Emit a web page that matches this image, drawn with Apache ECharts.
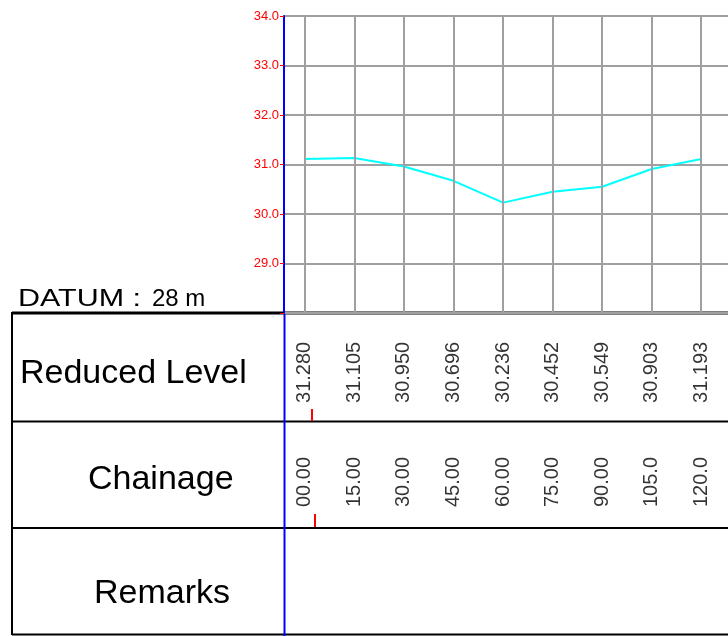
<!DOCTYPE html>
<html>
<head>
<meta charset="utf-8">
<title>Longitudinal section</title>
<script src="https://cdn.jsdelivr.net/npm/echarts@6/dist/echarts.min.js"></script>
<style>
  html, body { margin: 0; padding: 0; background: #fff; }
  #chart { width: 728px; height: 636px; }
</style>
</head>
<body>
<div id="chart"></div>
<script>
  // chainage of each station (m)
  const chainage = [0, 15, 30, 45, 60, 75, 90, 105, 120]
  // levels as plotted on the profile
  const levels = [31.11, 31.13, 30.96, 30.67, 30.23, 30.45, 30.55, 30.91, 31.11]
  // texts written in the table rows
  const rlLabels = ['31.280', '31.105', '30.950', '30.696', '30.236', '30.452', '30.549', '30.903', '31.193']
  const chainageLabels = ['00.00', '15.00', '30.00', '45.00', '60.00', '75.00', '90.00', '105.0', '120.0']
  const yTicks = [28, 29, 30, 31, 32, 33, 34]
  const datum = 28

  const FONT = '"Liberation Sans", Arial, sans-serif'
  const xRange = { min: -6.3, max: 128.1 }

  const chart = echarts.init(document.getElementById('chart'))

  function rowSeries(idx, labels, yPos) {
    return {
      type: 'scatter',
      xAxisIndex: idx,
      yAxisIndex: idx,
      symbolSize: 0,
      silent: true,
      data: chainage.map(c => [c, yPos]),
      label: {
        show: true,
        position: 'inside',
        rotate: 90,
        fontFamily: FONT,
        fontSize: 20,
        color: '#000',
        formatter: p => labels[p.dataIndex]
      }
    }
  }

  function hline(x1, x2, y, w, color) {
    return { type: 'line', silent: true, shape: { x1, y1: y, x2, y2: y }, style: { stroke: color, lineWidth: w } }
  }
  function vline(x, y1, y2, w, color) {
    return { type: 'line', silent: true, shape: { x1: x, y1, x2: x, y2 }, style: { stroke: color, lineWidth: w } }
  }
  function label(text, x, y, size, scaleX) {
    return {
      type: 'text', silent: true, x, y, scaleX: scaleX || 1,
      style: { text, fontFamily: FONT, fontSize: size, fill: '#000', align: 'left', verticalAlign: 'middle' }
    }
  }

  const hiddenX = i => ({ type: 'value', gridIndex: i, ...xRange, show: false })
  const hiddenY = i => ({ type: 'value', gridIndex: i, min: 0, max: 1, show: false })

  chart.setOption({
    animation: false,
    grid: [
      { left: 284, right: 0, top: 16, height: 297 },
      { left: 284, right: 0, top: 313, height: 108 },
      { left: 284, right: 0, top: 421, height: 107 }
    ],
    xAxis: [hiddenX(0), hiddenX(1), hiddenX(2)],
    yAxis: [
      {
        type: 'value',
        gridIndex: 0,
        min: yTicks[0],
        max: yTicks[yTicks.length - 1],
        interval: 1,
        axisLine: { show: true, onZero: false, lineStyle: { color: '#0000ff', width: 2 } },
        axisTick: { show: true, length: 4, lineStyle: { color: '#ff0000', width: 1 } },
        axisLabel: {
          margin: 5,
          color: '#ff0000',
          fontFamily: FONT,
          fontSize: 13,
          formatter: v => (v === datum ? '' : v.toFixed(1))
        },
        splitLine: { show: true, lineStyle: { color: '#a0a0a0', width: 2 } }
      },
      hiddenY(1),
      hiddenY(2)
    ],
    series: [
      {
        // vertical station lines
        type: 'line',
        z: 1,
        data: [],
        silent: true,
        markLine: {
          silent: true,
          symbol: ['none', 'none'],
          label: { show: false },
          lineStyle: { color: '#a0a0a0', width: 2, type: 'solid' },
          data: chainage.map(c => ({ xAxis: c }))
        }
      },
      {
        name: 'Ground profile',
        type: 'line',
        z: 3,
        symbol: 'none',
        lineStyle: { color: '#00ffff', width: 2 },
        data: chainage.map((c, i) => [c, levels[i]])
      },
      rowSeries(1, rlLabels, 0.45),
      rowSeries(2, chainageLabels, 0.43)
    ],
    graphic: [
      hline(12, 728, 313, 3, '#000'),
      hline(12, 728, 421.5, 2, '#000'),
      hline(12, 728, 528, 2, '#000'),
      hline(12, 728, 634.5, 2, '#000'),
      vline(12, 312, 635, 2, '#000'),
      vline(284.5, 313, 636, 2, '#0000ff'),
      vline(312, 409, 421, 2, '#ff0000'),
      vline(315, 514, 527, 2, '#ff0000'),
      label('DATUM :', 18, 299, 24, 1.27),
      label(datum + ' m', 152, 299, 24),
      label('Reduced Level', 20, 373.5, 34),
      label('Chainage', 88, 480, 34),
      label('Remarks', 94, 594, 34)
    ]
  })
</script>
</body>
</html>
